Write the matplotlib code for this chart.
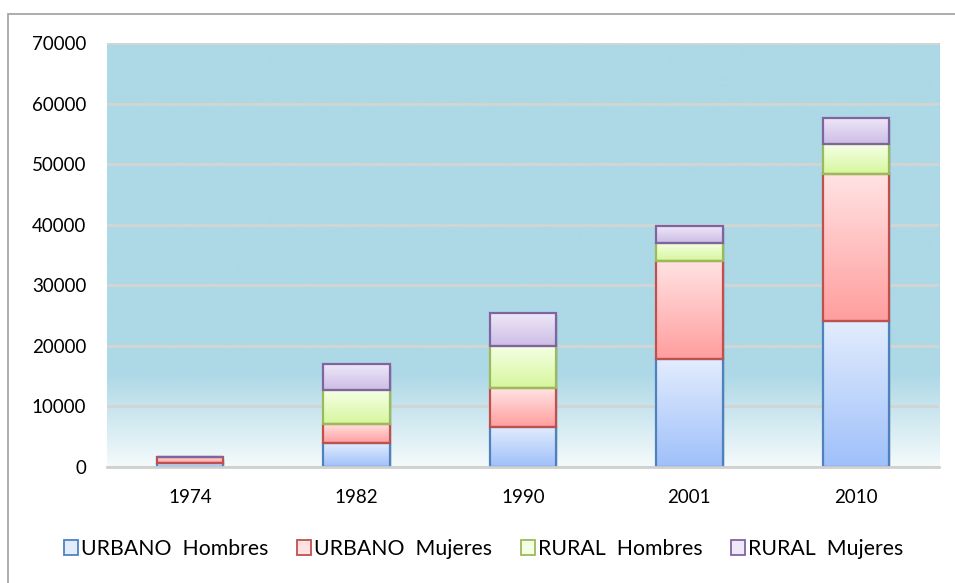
import numpy as np
import matplotlib.pyplot as plt
from matplotlib.patches import Patch, Rectangle
from matplotlib.colors import LinearSegmentedColormap, to_rgb

years = ['1974', '1982', '1990', '2001', '2010']
urbano_h = [660, 3910, 6650, 17780, 24100]
urbano_m = [1040, 3190, 6340, 16230, 24270]
rural_h = [0, 5610, 7040, 3020, 4910]
rural_m = [0, 4290, 5440, 2810, 4340]

series = [urbano_h, urbano_m, rural_h, rural_m]
names = ['URBANO  Hombres', 'URBANO  Mujeres', 'RURAL  Hombres', 'RURAL  Mujeres']
edges = ['#4f81bd', '#c0504d', '#9bbb59', '#8064a2']
tops = ['#e2ecfd', '#ffe3e3', '#f5ffe6', '#eee8f8']
bottoms = ['#9fc0fa', '#ff9e9e', '#d6f79c', '#cdbde6']

plt.rcParams['font.family'] = ['Lato', 'DejaVu Sans']

fig = plt.figure(figsize=(9.55, 5.83), dpi=100)
ax = fig.add_axes([107/955, 1-467/583, 832/955, 424/583])

# outer chart border
fig.patches.append(Rectangle((8/955, -0.05), 1.2, 1-14/583+0.05, transform=fig.transFigure,
                             fill=False, edgecolor='#a6a6a6', linewidth=1.3))

# plot area background: light blue fading to white at the bottom
t = np.linspace(0, 1, 256)
bg_top = np.array(to_rgb('#add8e6'))
bg_bot = np.array(to_rgb('#f4fafb'))
w = np.clip(t / 0.22, 0, 1)[:, None]
bg = (bg_bot * (1 - w) + bg_top * w)[:, None, :]
ax.imshow(bg, extent=(0, 1, 0, 1), transform=ax.transAxes, origin='lower',
          aspect='auto', zorder=0)

x = np.arange(len(years))
bottom = np.zeros(len(years))
for vals, name, ec, ct, cb in zip(series, names, edges, tops, bottoms):
    vals = np.array(vals, dtype=float)
    bars = ax.bar(x, vals, 0.4, bottom=bottom, facecolor='none', edgecolor=ec,
                  linewidth=1.6, zorder=4, label=name)
    cmap = LinearSegmentedColormap.from_list(name, [cb, ct])
    for b in bars:
        if b.get_height() <= 0:
            continue
        x0, y0 = b.get_x(), b.get_y()
        ax.imshow(np.linspace(0, 1, 100)[:, None], cmap=cmap, origin='lower',
                  extent=(x0, x0 + b.get_width(), y0, y0 + b.get_height()),
                  aspect='auto', zorder=3)
        # soft shadow
        ax.add_patch(Rectangle((x0 + 0.012, y0 - 300), b.get_width(), b.get_height(),
                               facecolor='#5a7f8a', alpha=0.18, edgecolor='none', zorder=2))
    bottom += vals

ax.set_xlim(-0.5, 4.5)
ax.set_ylim(0, 70000)
ax.set_yticks(range(0, 70001, 10000))
ax.set_xticks(x)
ax.set_xticklabels(years)
ax.yaxis.grid(True, color='#d4d4d4', linewidth=2)
for gl in ax.get_ygridlines():
    gl.set_zorder(1)
for s in ['top', 'right', 'left']:
    ax.spines[s].set_visible(False)
ax.spines['bottom'].set_color('#d0d0d0')
ax.spines['bottom'].set_linewidth(2)
ax.spines['bottom'].set_zorder(5)
ax.tick_params(axis='both', length=0, labelsize=13.5, colors='black')
ax.tick_params(axis='y', pad=15)
ax.tick_params(axis='x', pad=16)

handles = [Patch(facecolor=c, edgecolor=e, linewidth=1.3) for c, e in zip(tops, edges)]
fig.legend(handles, names, loc='center', bbox_to_anchor=(484/955, 1-549/583), ncol=4,
           frameon=False, fontsize=15.3, handlelength=0.65, handleheight=0.65,
           handletextpad=0.15, columnspacing=1.35)

fig.savefig('out.png', dpi=100)
